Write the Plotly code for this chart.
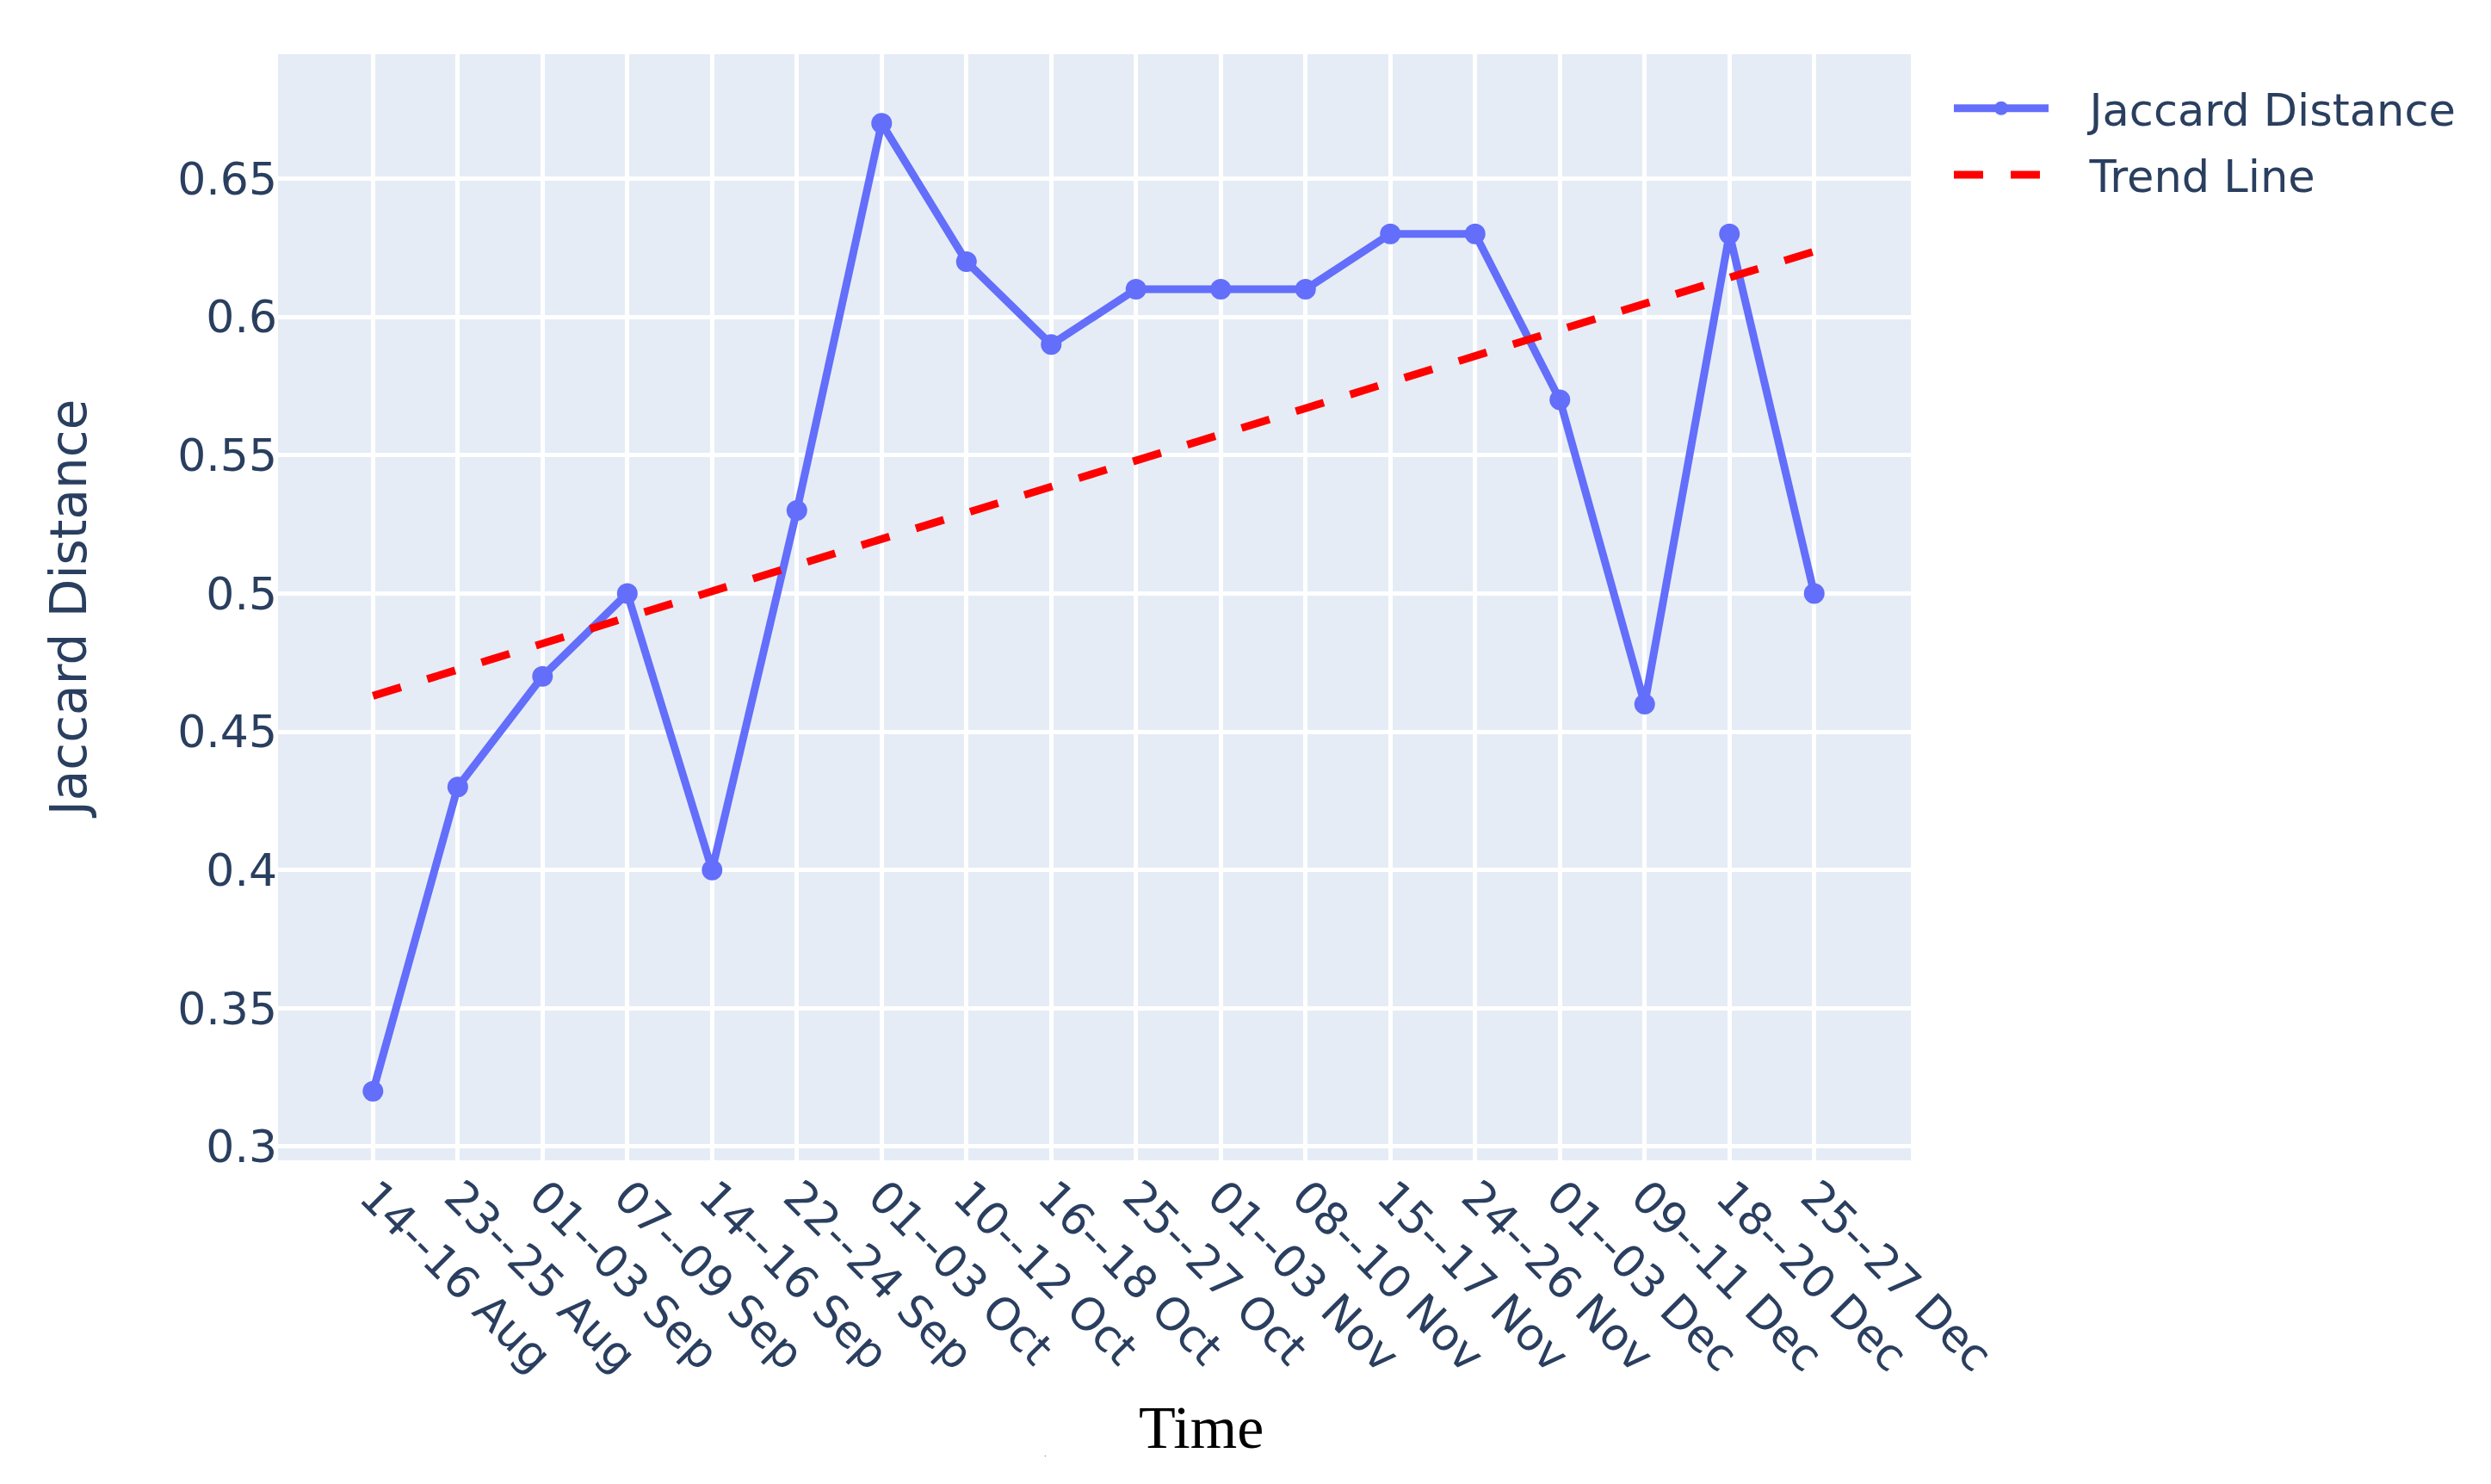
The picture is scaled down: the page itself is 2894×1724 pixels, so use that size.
import numpy as np
import plotly.graph_objects as go

periods = ["14--16 Aug", "23--25 Aug", "01--03 Sep", "07--09 Sep", "14--16 Sep",
           "22--24 Sep", "01--03 Oct", "10--12 Oct", "16--18 Oct", "25--27 Oct",
           "01--03 Nov", "08--10 Nov", "15--17 Nov", "24--26 Nov", "01--03 Dec",
           "09--11 Dec", "18--20 Dec", "25--27 Dec"]
jaccard = [0.32, 0.43, 0.47, 0.50, 0.40, 0.53, 0.67, 0.62, 0.59, 0.61,
           0.61, 0.61, 0.63, 0.63, 0.57, 0.46, 0.63, 0.50]

# Linear trend (least squares fit of the series against its index)
idx = np.arange(len(jaccard))
slope, intercept = np.polyfit(idx, jaccard, 1)
trend = slope * idx + intercept

FONT = "Verdana, DejaVu Sans, sans-serif"
TXT = "#2a3f5f"
PAD = "\u00a0\u00a0\u2009"

fig = go.Figure()
fig.add_trace(go.Scatter(
    x=periods, y=jaccard, mode="lines+markers", name=PAD + "Jaccard Distance",
    line=dict(color="#636efa", width=9), marker=dict(size=24, color="#636efa"),
    legendgroup="a"))
fig.add_trace(go.Scatter(
    x=periods, y=trend, mode="lines", name=PAD + "Trend Line",
    line=dict(color="red", width=9, dash="34px,32px"), legendgroup="b"))

fig.update_layout(
    width=2878, height=1708,
    template="plotly",
    font=dict(family=FONT, size=52, color=TXT),
    margin=dict(l=315, r=666, t=55, b=368, autoexpand=False),
    plot_bgcolor="#E5ECF6",
    legend=dict(font=dict(size=51, family=FONT, color=TXT), itemwidth=110,
                tracegroupgap=8, x=1.0237, y=0.982, yanchor="top"),
    annotations=[
        dict(text="Time", xref="paper", yref="paper", x=0.5655, y=-0.242,
             xanchor="center", yanchor="middle", showarrow=False,
             font=dict(family="Times New Roman, Liberation Serif, serif", size=70, color="black")),
        dict(text=".", xref="paper", yref="paper", x=0.470, y=-0.266,
             xanchor="center", yanchor="middle", showarrow=False,
             font=dict(family=FONT, size=8, color=TXT)),
    ],
)
fig.update_xaxes(
    type="category", range=[-1.12, 18.14], tickangle=45,
    tickfont=dict(size=52, family=FONT, color=TXT),
    showgrid=True, gridcolor="white", gridwidth=5, zeroline=False, automargin=False)
fig.update_yaxes(
    range=[0.295, 0.695], dtick=0.05, tick0=0.3,
    tickfont=dict(size=52, family=FONT, color=TXT),
    title=dict(text="Jaccard Distance", font=dict(size=58, family=FONT, color=TXT), standoff=86),
    showgrid=True, gridcolor="white", gridwidth=5, zeroline=False, automargin=False)

fig.write_html("out.html")
